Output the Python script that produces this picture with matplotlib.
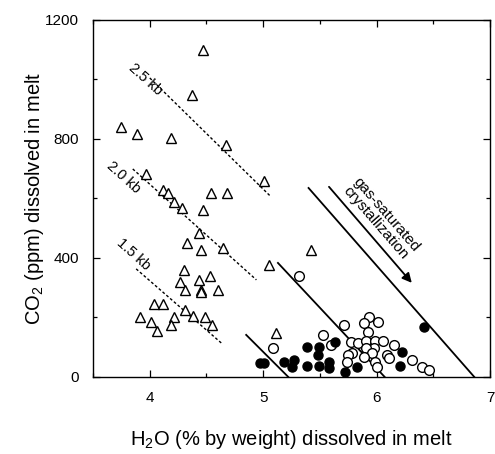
import numpy as np
import matplotlib
matplotlib.use("Agg")
import matplotlib.pyplot as plt
from matplotlib.ticker import MultipleLocator

plt.rcParams["font.family"] = ["Liberation Sans", "DejaVu Sans"]
plt.rcParams["mathtext.fontset"] = "custom"
plt.rcParams["mathtext.rm"] = "Liberation Sans"
plt.rcParams["mathtext.it"] = "Liberation Sans:italic"

# melt inclusions, open triangles
tri_h2o = [4.47, 4.37, 3.75, 3.89, 4.19, 4.67, 5.01, 3.97, 4.12, 4.16, 4.21,
           4.28, 4.47, 4.54, 4.68, 4.43, 4.33, 4.45, 4.65, 5.05, 4.30, 4.53,
           4.27, 4.43, 4.31, 4.45, 4.45, 4.60, 4.04, 4.12, 4.31, 3.91, 4.21,
           4.38, 4.49, 4.01, 4.19, 4.55, 4.06, 5.11, 5.42]
tri_co2 = [1099, 948, 840, 817, 803, 780, 659, 682, 629, 618, 588,
           568, 561, 618, 618, 484, 450, 427, 434, 376, 360, 339,
           319, 326, 292, 292, 286, 292, 245, 245, 225, 202, 202,
           205, 202, 185, 175, 175, 155, 148, 427]

# open circles
oc_h2o = [5.32, 5.09, 5.71, 5.93, 5.89, 6.01, 5.92, 5.53, 5.60, 5.77, 5.84,
          5.91, 5.99, 6.06, 6.15, 5.98, 5.91, 5.78, 5.75, 5.96, 6.09, 6.11,
          5.89, 5.74, 5.99, 6.00, 6.31, 6.40, 6.46]
oc_co2 = [340, 97, 175, 202, 182, 185, 151, 141, 108, 118, 114,
          121, 121, 121, 108, 97, 97, 81, 74, 81, 74, 64,
          67, 50, 50, 34, 57, 34, 24]

# filled circles
fc_h2o = [4.97, 5.01, 5.18, 5.27, 5.25, 5.39, 5.49, 5.48, 5.39, 5.49, 5.58,
          5.58, 5.63, 6.42, 6.22, 6.21, 5.83, 5.72]
fc_co2 = [47, 47, 50, 57, 34, 101, 101, 74, 37, 37, 50,
          30, 118, 168, 84, 37, 34, 17]

# isobars (dashed) and degassing trends (solid)
isobar_labels = ["2.5 kb", "2.0 kb", "1.5 kb"]
isobar_h2o = [(4.00, 5.07), (3.85, 4.94), (3.88, 4.63)]
isobar_co2 = [(1005, 605), (699, 326), (363, 114)]
label_h2o = [3.96, 3.77, 3.86]
label_co2 = [1000, 672, 413]

trend_h2o = [(4.85, 5.22), (5.13, 6.07), (5.40, 6.86)]
trend_co2 = [(141, 0), (383, 0), (635, 0)]

arrow_h2o = (5.58, 6.31)
arrow_co2 = (639, 316)

fig = plt.figure(figsize=(4.95, 4.54), dpi=100)
ax = fig.add_axes([0.188, 0.170, 0.802, 0.786])

for xs, ys in zip(isobar_h2o, isobar_co2):
    ax.plot(xs, ys, color="black", lw=1.0, dashes=(2, 1.6))
for lab, x, y in zip(isobar_labels, label_h2o, label_co2):
    ax.text(x, y, lab, rotation=-42, ha="center", va="center",
            rotation_mode="anchor", fontsize=10.5)

for xs, ys in zip(trend_h2o, trend_co2):
    ax.plot(xs, ys, color="black", lw=1.3)

ax.annotate("", xy=(arrow_h2o[1], arrow_co2[1]), xytext=(arrow_h2o[0], arrow_co2[0]),
            arrowprops=dict(arrowstyle="-|>", color="black", lw=1.3,
                            mutation_scale=14, shrinkA=0, shrinkB=0))
ax.text(6.04, 532, "gas-saturated\ncrystallization", rotation=-49,
        ha="center", va="center", rotation_mode="anchor", fontsize=11,
        linespacing=0.95)

ax.plot(tri_h2o, tri_co2, ls="none", marker="^", ms=7.5, mfc="white",
        mec="black", mew=1.0)
ax.plot(oc_h2o, oc_co2, ls="none", marker="o", ms=7, mfc="white",
        mec="black", mew=1.0)
ax.plot(fc_h2o, fc_co2, ls="none", marker="o", ms=6.5, mfc="black",
        mec="black", mew=1.0)

ax.set_xlim(3.5, 7)
ax.set_ylim(0, 1200)
ax.xaxis.set_major_locator(MultipleLocator(1))
ax.xaxis.set_minor_locator(MultipleLocator(0.5))
ax.yaxis.set_major_locator(MultipleLocator(400))
ax.yaxis.set_minor_locator(MultipleLocator(200))
ax.tick_params(which="both", direction="in", top=True, right=True,
               labelsize=11, width=0.9)
ax.tick_params(which="major", length=5, pad=10)
ax.tick_params(which="minor", length=3)
for s in ax.spines.values():
    s.set_linewidth(1.0)

ax.set_xlabel("H$_2$O (% by weight) dissolved in melt", fontsize=14.5, labelpad=17)
ax.set_ylabel("CO$_2$ (ppm) dissolved in melt", fontsize=14.5)
ax.yaxis.set_label_coords(-0.118, 0.5)

fig.savefig("out.png", dpi=100)
